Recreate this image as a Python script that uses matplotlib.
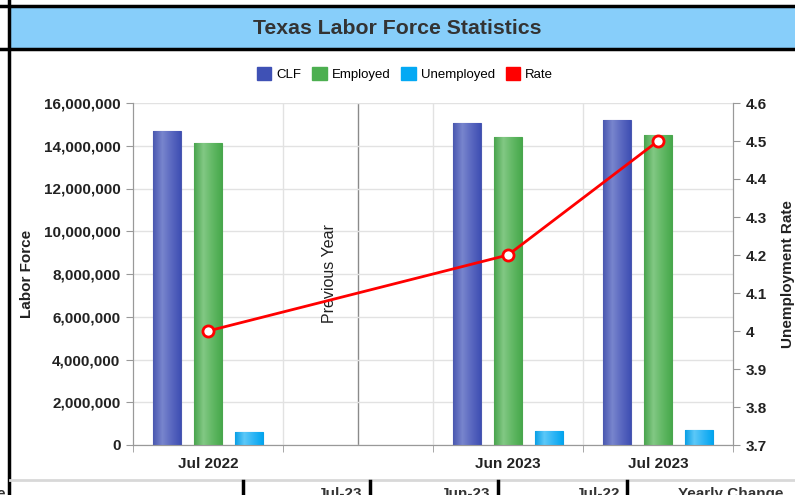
import numpy as np
import matplotlib.pyplot as plt
from matplotlib.patches import Rectangle
from matplotlib.lines import Line2D
from matplotlib.colors import LinearSegmentedColormap
from matplotlib.ticker import FuncFormatter

plt.rcParams['font.family'] = ['Liberation Sans', 'DejaVu Sans']

# data
categories = ["Jul 2022", "", "Jun 2023", "Jul 2023"]
clf = [14700000, None, 15050000, 15200000]
employed = [14110000, None, 14400000, 14520000]
unemployed = [610000, None, 670000, 720000]
rate = [4.0, None, 4.2, 4.5]

series_names = ["CLF", "Employed", "Unemployed"]
series_vals = [clf, employed, unemployed]
series_cols = ["#3F51B5", "#4CAF50", "#03A9F4"]
series_grad = [["#4a58b0", "#7885cd", "#5a68c0", "#3f4fb3"],
               ["#4aa54e", "#82c884", "#62b865", "#48a94c"],
               ["#0aa0e6", "#5cc8f8", "#2eb5f5", "#03a6f0"]]
table_heads = ["Jul-23", "Jun-23", "Jul-22", "Yearly Change"]

W, H = 795, 495
fig = plt.figure(figsize=(W / 100, H / 100), dpi=100)


def fx(px):
    return px / W


def fy(py):
    return 1 - py / H


# title bar and frame lines
fig.add_artist(Rectangle((fx(9), fy(48)), fx(W - 9), fy(7) - fy(48),
                         transform=fig.transFigure, color="#87CEFA", zorder=0))
fig.add_artist(Line2D([0, 1], [fy(6), fy(6)], transform=fig.transFigure, color="black", lw=2.5))
fig.add_artist(Line2D([0, 1], [fy(48.5), fy(48.5)], transform=fig.transFigure, color="black", lw=2.5))
fig.add_artist(Line2D([fx(9), fx(9)], [0, 1], transform=fig.transFigure, color="black", lw=2.5))
fig.text(0.5, fy(28), "Texas Labor Force Statistics", ha="center", va="center",
         fontsize=15.3, fontweight="bold", color="#333333")

# bottom table fragment (cut off at the lower edge, as in the original)
fig.add_artist(Line2D([fx(10), 1], [fy(479.5), fy(479.5)], transform=fig.transFigure,
                      color="#d8d8d8", lw=2))
for xp in [243, 370, 498, 627]:
    fig.add_artist(Line2D([fx(xp), fx(xp)], [0, fy(481)], transform=fig.transFigure,
                          color="black", lw=2.5))
for xp, txt in zip([362, 490, 620], table_heads[:3]):
    fig.text(fx(xp), fy(494), txt, ha="right", va="center", fontsize=11,
             fontweight="bold", color="#333333")
fig.text(fx(678), fy(494), table_heads[3], ha="left", va="center", fontsize=11,
         fontweight="bold", color="#333333")
fig.text(fx(-4), fy(494), "e", ha="left", va="center", fontsize=11,
         fontweight="bold", color="#333333")

ax = fig.add_axes([fx(133), fy(445), fx(733) - fx(133), fy(103) - fy(445)])
ax2 = ax.twinx()

x = np.arange(len(categories))
offsets = [-0.273, 0, 0.273]
bw = 0.183

for name, vals, col, grad, off in zip(series_names, series_vals, series_cols, series_grad, offsets):
    xs = [xi + off for xi, v in zip(x, vals) if v is not None]
    hs = [v for v in vals if v is not None]
    bars = ax.bar(xs, hs, width=bw, color=col, edgecolor=grad[0], lw=0.8, zorder=3, label=name)
    cmap = LinearSegmentedColormap.from_list(name, grad)
    g = np.linspace(0, 1, 64).reshape(1, -1)
    for b in bars:
        im = ax.imshow(g, cmap=cmap, aspect="auto", zorder=3.5,
                       extent=[b.get_x(), b.get_x() + b.get_width(), 0, b.get_height()])
        im.set_clip_path(b)
ax.set_xlim(-0.5, len(categories) - 0.5)
ax.set_ylim(0, 16000000)

# grid
ax.set_yticks(np.arange(0, 16000001, 2000000))
ax.yaxis.set_major_formatter(FuncFormatter(lambda v, p: f"{int(v):,}"))
ax.grid(axis="y", color="#e2e2e2", lw=1, zorder=0)
for b in [0.5, 1.5, 2.5]:
    ax.axvline(b, color="#e2e2e2", lw=1, zorder=0)
ax.axvline(1, color="#8a8a8a", lw=1, zorder=1)
ax.text(0.81, 8000000, "Previous Year", rotation=90, ha="center", va="center",
        fontsize=11.5, color="#222222")

ax.set_xticks(x)
ax.set_xticklabels(categories)
ax.set_xticks(np.arange(-0.5, len(categories), 1), minor=True)
ax.tick_params(axis="x", which="major", length=0, pad=9)
ax.tick_params(axis="x", which="minor", length=5, color="#999999")
ax.tick_params(axis="y", length=5, color="#999999", pad=4)
for lab in ax.get_xticklabels() + ax.get_yticklabels():
    lab.set_fontsize(11)
    lab.set_fontweight("bold")
    lab.set_color("#222222")
ax.set_ylabel("Labor Force", fontsize=11, fontweight="bold", color="#222222", labelpad=7)

for s in ["top"]:
    ax.spines[s].set_visible(False)
    ax2.spines[s].set_visible(False)
for s in ["left", "bottom", "right"]:
    ax.spines[s].set_color("#999999")
    ax2.spines[s].set_color("#999999")

# rate line
rx = [xi for xi, r in zip(x, rate) if r is not None]
ry = [r for r in rate if r is not None]
ax2.plot(rx, ry, color="#ff0000", lw=2, marker="o", ms=8, mfc="white", mec="#ff0000",
         mew=2, zorder=5, label="Rate")
ax2.set_ylim(3.7, 4.6)
ax2.set_yticks(np.round(np.arange(3.7, 4.61, 0.1), 1))
ax2.yaxis.set_major_formatter(FuncFormatter(lambda v, p: f"{v:g}"))
ax2.tick_params(axis="y", length=5, color="#999999", pad=4)
for lab in ax2.get_yticklabels():
    lab.set_fontsize(11)
    lab.set_fontweight("bold")
    lab.set_color("#222222")
ax2.set_ylabel("Unemployment Rate", fontsize=11, fontweight="bold", color="#222222", labelpad=10)

# legend
handles = [Rectangle((0, 0), 1, 1, color=c) for c in series_cols + ["#ff0000"]]
fig.legend(handles, series_names + ["Rate"], loc="center", bbox_to_anchor=(fx(405), fy(74)),
           ncol=4, frameon=False, fontsize=9.5, handlelength=1.1, handleheight=1.1,
           handletextpad=0.4, columnspacing=0.8)

fig.savefig("out.png", dpi=100)
